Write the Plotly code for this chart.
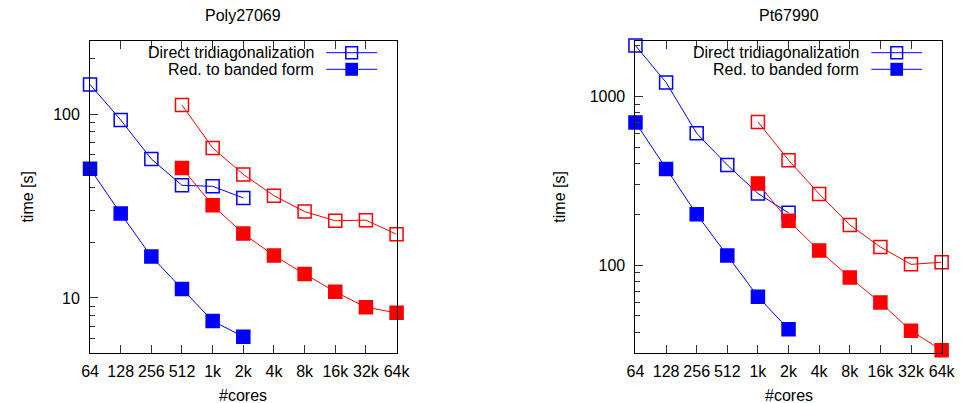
import numpy as np
import plotly.graph_objects as go

# ---------------- data ----------------
cores = ["64", "128", "256", "512", "1k", "2k", "4k", "8k", "16k", "32k", "64k"]

blue_cores = ["64", "128", "256", "512", "1k", "2k"]
poly_red_cores = ["512", "1k", "2k", "4k", "8k", "16k", "32k", "64k"]
pt_red_cores = ["1k", "2k", "4k", "8k", "16k", "32k", "64k"]

poly_direct_blue = [145, 93, 57, 41, 40.5, 35]
poly_banded_blue = [50.5, 28.8, 16.8, 11.2, 7.5, 6.15]
poly_direct_red = [112, 65.5, 47, 36, 29.5, 26.3, 26.5, 22.2]
poly_banded_red = [51, 31.9, 22.4, 17.0, 13.5, 10.8, 8.9, 8.3]

pt_direct_blue = [2000, 1210, 604, 392, 266, 204]
pt_banded_blue = [701, 371, 200, 114, 65, 41.6]
pt_direct_red = [706, 419, 264, 173, 128, 101, 104]
pt_banded_red = [305, 183, 122, 84.5, 60, 40.8, 31.3]

titles = ["Poly27069", "Pt67990"]
legend_labels = ["Direct tridiagonalization", "Red. to banded form"]
poly_yrange = [5, 250]
pt_yrange = [30, 2130]

BLUE = "#0000ff"
RED = "#ff0000"
FONT = "Liberation Sans, Arial, sans-serif"
W, H = 969, 403

fig = go.Figure()


def add_series(x, y, color, filled, xa, ya):
    fig.add_trace(go.Scatter(
        x=x, y=y, mode="lines+markers", xaxis=xa, yaxis=ya,
        line=dict(color=color, width=1),
        marker=dict(symbol="square" if filled else "square-open", size=13,
                    color=color, line=dict(color=color, width=1.5)),
        cliponaxis=False, showlegend=False, hoverinfo="skip"))


add_series(blue_cores, poly_direct_blue, BLUE, False, "x", "y")
add_series(blue_cores, poly_banded_blue, BLUE, True, "x", "y")
add_series(poly_red_cores, poly_direct_red, RED, False, "x", "y")
add_series(poly_red_cores, poly_banded_red, RED, True, "x", "y")

add_series(blue_cores, pt_direct_blue, BLUE, False, "x2", "y2")
add_series(blue_cores, pt_banded_blue, BLUE, True, "x2", "y2")
add_series(pt_red_cores, pt_direct_red, RED, False, "x2", "y2")
add_series(pt_red_cores, pt_banded_red, RED, True, "x2", "y2")


def minor_vals(lo, hi):
    out = []
    for e in range(-1, 5):
        for k in range(2, 10):
            v = k * 10 ** e
            if lo < v < hi:
                out.append(v)
    return out


# panel geometry in pixels
panels = [(83, 397), (641.7, 955.3)]
ptop, pbot = 41, 353.3
ydom = [1 - pbot / H, 1 - ptop / H]

xcommon = dict(type="category", categoryorder="array", categoryarray=cores,
               range=[0, len(cores) - 1], showgrid=False, zeroline=False,
               showline=True, linecolor="black", linewidth=1, mirror="ticks",
               ticks="inside", ticklen=8, tickcolor="#333333", tickwidth=1,
               ticklabelstandoff=3,
               tickfont=dict(family=FONT, size=16, color="black"))

ycommon = dict(type="log", showgrid=False, zeroline=False, showline=True,
               linecolor="black", linewidth=1, mirror=True, ticks="inside",
               ticklen=8, tickcolor="#333333", tickwidth=1,
               ticklabelstandoff=6,
               tickfont=dict(family=FONT, size=16, color="black"))

fig.update_layout(
    xaxis=dict(domain=[panels[0][0] / W, panels[0][1] / W], anchor="y", **xcommon),
    xaxis2=dict(domain=[panels[1][0] / W, panels[1][1] / W], anchor="y2", **xcommon),
    yaxis=dict(domain=ydom, anchor="x",
               range=[np.log10(poly_yrange[0]), np.log10(poly_yrange[1])],
               tickvals=[10, 100], ticktext=["10", "100"],
               minor=dict(tickvals=minor_vals(*poly_yrange), ticks="inside",
                          ticklen=5, tickcolor="#333333"),
               **ycommon),
    yaxis2=dict(domain=ydom, anchor="x2",
                range=[np.log10(pt_yrange[0]), np.log10(pt_yrange[1])],
                tickvals=[100, 1000], ticktext=["100", "1000"],
                minor=dict(tickvals=minor_vals(*pt_yrange), ticks="inside",
                           ticklen=5, tickcolor="#333333"),
                **ycommon),
    width=W, height=H, margin=dict(l=0, r=0, t=0, b=0),
    paper_bgcolor="white", plot_bgcolor="white", showlegend=False,
)

annotations = []
shapes = []
for i, (xl, xr) in enumerate(panels):
    cx = (xl + xr) / 2
    # title
    annotations.append(dict(text=titles[i], x=cx / W, y=1 - 15 / H, xref="paper", yref="paper",
                            showarrow=False, xanchor="center", yanchor="middle",
                            font=dict(family=FONT, size=16, color="black")))
    # x title
    annotations.append(dict(text="#cores", x=cx / W, y=1 - 395 / H, xref="paper", yref="paper",
                            showarrow=False, xanchor="center", yanchor="middle",
                            font=dict(family=FONT, size=16, color="black")))
    # y title
    ytx = 18 if i == 0 else 563
    annotations.append(dict(text="time [s]", x=ytx / W, y=1 - 197 / H, xref="paper", yref="paper",
                            showarrow=False, xanchor="center", yanchor="middle", textangle=-90,
                            font=dict(family=FONT, size=16, color="black")))
    # legend
    for j, lab in enumerate(legend_labels):
        ry = 52.7 if j == 0 else 69.3
        annotations.append(dict(text=lab, x=(xr - 83) / W, y=1 - ry / H, xref="paper", yref="paper",
                                showarrow=False, xanchor="right", yanchor="middle",
                                font=dict(family=FONT, size=16, color="black")))
        shapes.append(dict(type="line", xref="paper", yref="paper",
                           x0=(xr - 72) / W, x1=(xr - 20) / W, y0=1 - ry / H, y1=1 - ry / H,
                           line=dict(color=BLUE, width=1)))
        mx = xr - 46
        if j == 0:
            shapes.append(dict(type="rect", xref="paper", yref="paper",
                               x0=(mx - 6) / W, x1=(mx + 6) / W,
                               y0=1 - (ry + 6) / H, y1=1 - (ry - 6) / H,
                               line=dict(color=BLUE, width=1.5), fillcolor="rgba(0,0,0,0)"))
        else:
            shapes.append(dict(type="rect", xref="paper", yref="paper",
                               x0=(mx - 6.5) / W, x1=(mx + 6.5) / W,
                               y0=1 - (ry + 6.5) / H, y1=1 - (ry - 6.5) / H,
                               line=dict(color=BLUE, width=0), fillcolor=BLUE))

fig.update_layout(annotations=annotations, shapes=shapes)

fig.write_html("out.html")
